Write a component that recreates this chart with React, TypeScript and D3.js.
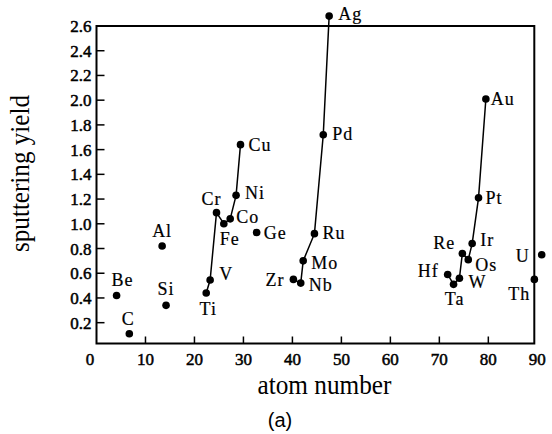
import React from 'react';
import * as d3 from 'd3';

// Sputtering yield versus atomic number, grouped by period
const lightNames = ['Be', 'C', 'Al', 'Si', 'Ge'];
const lightZ = [4.1, 6.7, 13.4, 14.2, 32.7];
const lightYield = [0.42, 0.11, 0.82, 0.34, 0.93];

const period4Names = ['Ti', 'V', 'Cr', 'Fe', 'Co', 'Ni', 'Cu'];
const period4Z = [22.4, 23.2, 24.5, 26.0, 27.3, 28.5, 29.4];
const period4Yield = [0.44, 0.545, 1.09, 1.0, 1.04, 1.23, 1.64];

const period5Names = ['Zr', 'Nb', 'Mo', 'Ru', 'Pd', 'Ag'];
const period5Z = [40.2, 41.7, 42.2, 44.5, 46.3, 47.5];
const period5Yield = [0.55, 0.52, 0.7, 0.92, 1.72, 2.68];

const period6Names = ['Hf', 'Ta', 'W', 'Re', 'Os', 'Ir', 'Pt', 'Au'];
const period6Z = [71.7, 72.9, 74.1, 74.7, 75.9, 76.7, 78.0, 79.5];
const period6Yield = [0.59, 0.51, 0.56, 0.76, 0.71, 0.84, 1.21, 2.01];

const actinideNames = ['Th', 'U'];
const actinideZ = [89.4, 90.9];
const actinideYield = [0.55, 0.75];

const xTickValues = [0, 10, 20, 30, 40, 50, 60, 70, 80, 90];
const yTickValues = [0.2, 0.4, 0.6, 0.8, 1.0, 1.2, 1.4, 1.6, 1.8, 2.0, 2.2, 2.4, 2.6];

const xTitle = 'atom number';
const yTitle = 'sputtering yield';
const caption = '(a)';

// Where each element symbol sits relative to its dot
type Place = { dx: number; dy: number; anchor: 'start' | 'middle' | 'end' };
const labelPlace: Record<string, Place> = {
  Be: { dx: -5, dy: -9, anchor: 'start' },
  C: { dx: -1, dy: -9, anchor: 'middle' },
  Al: { dx: 0, dy: -9, anchor: 'middle' },
  Si: { dx: 0, dy: -10, anchor: 'middle' },
  Ge: { dx: 7, dy: 7, anchor: 'start' },
  Ti: { dx: 2, dy: 22, anchor: 'middle' },
  V: { dx: 9, dy: 0, anchor: 'start' },
  Cr: { dx: 5, dy: -8, anchor: 'end' },
  Fe: { dx: -4, dy: 21, anchor: 'start' },
  Co: { dx: 6, dy: 4, anchor: 'start' },
  Ni: { dx: 9, dy: 4, anchor: 'start' },
  Cu: { dx: 8, dy: 6, anchor: 'start' },
  Zr: { dx: -9, dy: 7, anchor: 'end' },
  Nb: { dx: 8, dy: 8, anchor: 'start' },
  Mo: { dx: 8, dy: 8, anchor: 'start' },
  Ru: { dx: 8, dy: 5, anchor: 'start' },
  Pd: { dx: 9, dy: 5, anchor: 'start' },
  Ag: { dx: 9, dy: 4, anchor: 'start' },
  Hf: { dx: -9, dy: 3, anchor: 'end' },
  Ta: { dx: 1, dy: 21, anchor: 'middle' },
  W: { dx: 9, dy: 10, anchor: 'start' },
  Re: { dx: -7, dy: -4, anchor: 'end' },
  Os: { dx: 7, dy: 11, anchor: 'start' },
  Ir: { dx: 8, dy: 2, anchor: 'start' },
  Pt: { dx: 7, dy: 6, anchor: 'start' },
  Au: { dx: 5, dy: 6, anchor: 'start' },
  Th: { dx: -4, dy: 21, anchor: 'end' },
  U: { dx: -12, dy: 7, anchor: 'end' },
};

type Pt = { name: string; z: number; y: number };
const zip = (names: string[], zs: number[], ys: number[]): Pt[] =>
  names.map((name, i) => ({ name, z: zs[i], y: ys[i] }));

const groups = [
  { points: zip(lightNames, lightZ, lightYield), connected: false },
  { points: zip(period4Names, period4Z, period4Yield), connected: true },
  { points: zip(period5Names, period5Z, period5Yield), connected: true },
  { points: zip(period6Names, period6Z, period6Yield), connected: true },
  { points: zip(actinideNames, actinideZ, actinideYield), connected: false },
];

const W = 552;
const H = 434;
const frame = { left: 96.5, right: 534.3, top: 26, bottom: 343.5 };

const x = d3.scaleLinear().domain([0, 90]).range([96.5, 537.3]);
const y = d3.scaleLinear().domain([0, 2.6]).range([347.4, 26]);

const serif = '"Liberation Serif", "Times New Roman", serif';
const sans = '"Liberation Sans", Arial, sans-serif';

export default function App() {
  const line = d3
    .line<Pt>()
    .x((d) => x(d.z))
    .y((d) => y(d.y));

  return (
    <svg
      width={W}
      height={H}
      viewBox={`0 0 ${W} ${H}`}
      style={{ position: 'absolute', left: 0, top: 0, background: '#fff' }}
    >
      <rect x={0} y={0} width={W} height={H} fill="#fff" />

      {/* plot frame */}
      <rect
        x={frame.left}
        y={frame.top}
        width={frame.right - frame.left}
        height={frame.bottom - frame.top}
        fill="none"
        stroke="#000"
        strokeWidth={2}
      />

      {/* y ticks and labels */}
      {yTickValues.map((v) => (
        <g key={`y${v}`}>
          {v < 2.6 && (
            <line
              x1={frame.left}
              x2={frame.left + 8}
              y1={y(v)}
              y2={y(v)}
              stroke="#000"
              strokeWidth={1.5}
            />
          )}
          <text
            x={frame.left - 5}
            y={y(v) + 6}
            textAnchor="end"
            fontFamily={serif}
            fontSize={17}
            fill="#000"
            stroke="#000"
            strokeWidth={0.5}
          >
            {v.toFixed(1)}
          </text>
        </g>
      ))}

      {/* x ticks and labels */}
      {xTickValues.map((v) => (
        <g key={`x${v}`}>
          {v > 0 && v < 90 && (
            <line
              x1={x(v)}
              x2={x(v)}
              y1={frame.bottom}
              y2={frame.bottom - 7}
              stroke="#000"
              strokeWidth={1.5}
            />
          )}
          <text
            x={x(v) + (v === 0 ? -6.5 : 0)}
            y={365}
            textAnchor="middle"
            fontFamily={serif}
            fontSize={17}
            fill="#000"
            stroke="#000"
            strokeWidth={0.5}
          >
            {v}
          </text>
        </g>
      ))}

      {/* connecting lines within each period */}
      {groups
        .filter((g) => g.connected)
        .map((g, i) => (
          <path
            key={`l${i}`}
            d={line(g.points) || ''}
            fill="none"
            stroke="#000"
            strokeWidth={1.5}
          />
        ))}

      {/* points and element labels */}
      {groups.map((g) =>
        g.points.map((p) => {
          const pl = labelPlace[p.name];
          return (
            <g key={p.name}>
              <circle cx={x(p.z)} cy={y(p.y)} r={3.8} fill="#000" />
              <text
                x={x(p.z) + pl.dx}
                y={y(p.y) + pl.dy}
                textAnchor={pl.anchor}
                fontFamily={serif}
                fontSize={18}
                letterSpacing={1}
                fill="#000"
                stroke="#000"
                strokeWidth={0.2}
              >
                {p.name}
              </text>
            </g>
          );
        })
      )}

      {/* axis titles */}
      <text
        x={324.5}
        y={394}
        textAnchor="middle"
        fontFamily={serif}
        fontSize={27}
        textLength={134}
        lengthAdjust="spacingAndGlyphs"
        fill="#000"
      >
        {xTitle}
      </text>
      <text
        transform="translate(29,173.5) rotate(-90)"
        textAnchor="middle"
        fontFamily={serif}
        fontSize={27}
        textLength={157}
        lengthAdjust="spacingAndGlyphs"
        fill="#000"
      >
        {yTitle}
      </text>
      <text
        x={280}
        y={426.5}
        textAnchor="middle"
        fontFamily={sans}
        fontSize={20}
        fill="#000"
      >
        {caption}
      </text>
    </svg>
  );
}
